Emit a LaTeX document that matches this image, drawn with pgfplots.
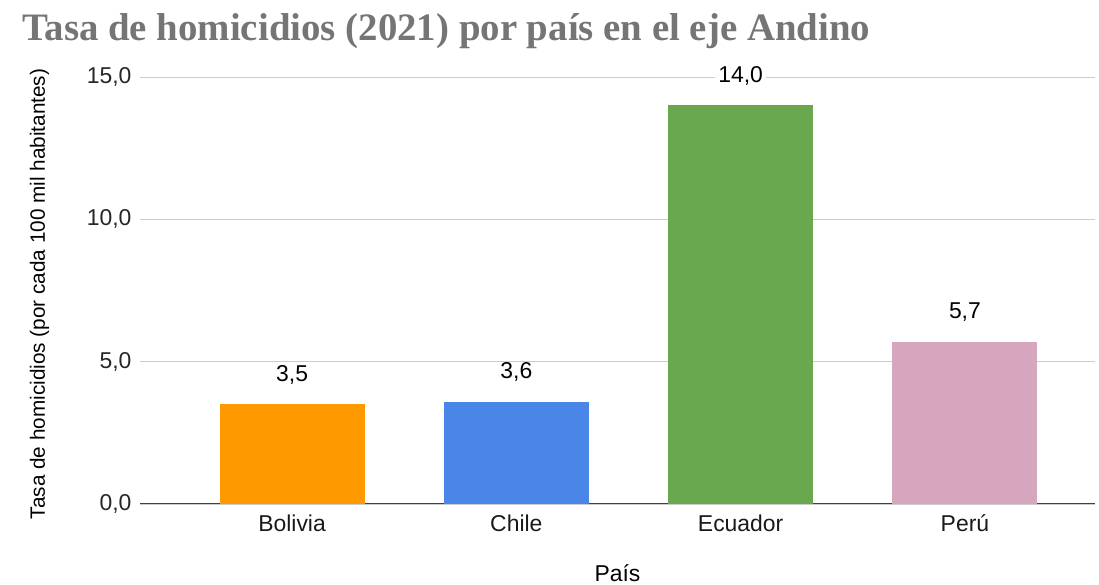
\documentclass[border=0pt]{standalone}
\usepackage{fontspec}
\setmainfont{Liberation Sans}
\newfontfamily\titlefont{Liberation Serif}
\usepackage{pgfplots}
\pgfplotsset{compat=1.18}
\definecolor{cBol}{HTML}{FF9900}
\definecolor{cChi}{HTML}{4A86E8}
\definecolor{cEcu}{HTML}{6AA84F}
\definecolor{cPer}{HTML}{D5A6BD}
\definecolor{grid}{HTML}{CCCCCC}
\definecolor{titlegray}{HTML}{757575}
\begin{document}
\begin{tikzpicture}[x=1bp,y=1bp]
\useasboundingbox (0,0) rectangle (1099,585);
\node[anchor=base west, inner sep=0, text=titlegray, font=\titlefont\bfseries\fontsize{39}{44}\selectfont] at (22,544) {Tasa de homicidios (2021) por país en el eje Andino};
\begin{axis}[
  at={(140bp,81bp)}, anchor=south west,
  scale only axis, width=955bp, height=427bp,
  ybar, bar width=145bp,
  xmin=-0.678, xmax=3.58,
  ymin=0, ymax=15,
  ytick={0,5,10,15},
  xtick={0,1,2,3},
  xticklabels={Bolivia,Chile,Ecuador,Perú},
  axis x line*=bottom, axis y line*=left,
  x axis line style={draw=black!75, line width=1pt},
  y axis line style={draw=none},
  major tick length=0pt,
  ymajorgrids, grid style={draw=grid, line width=0.8pt},
  yticklabel style={text=black!85, font=\fontsize{23}{26}\selectfont, xshift=-5bp},
  xticklabel style={text=black!90, font=\fontsize{23}{26}\selectfont, anchor=base, yshift=-28bp},
  /pgf/number format/assume math mode=true,
  yticklabel={\pgfmathprintnumber[fixed,fixed zerofill,precision=1,use comma]{\tick}},
  xlabel={País}, xlabel style={font=\fontsize{23}{26}\selectfont, at={(axis description cs:0.5,0)}, anchor=base, yshift=-78bp},
  ylabel={Tasa de homicidios (por cada 100 mil habitantes)},
  ylabel style={font=\fontsize{20.8}{24}\selectfont, at={(axis description cs:-0.0995,0.492)}, anchor=base, rotate=0},
  nodes near coords={\pgfmathprintnumber[fixed,fixed zerofill,precision=1,use comma,assume math mode=true]{\pgfplotspointmeta}},
  every node near coord/.append style={anchor=base, inner ysep=0pt, inner xsep=3bp, fill=white, yshift=23bp, font=\fontsize{23}{26}\selectfont, text=black},
  clip=false,
]
\addplot[fill=cBol, draw=none, bar shift=0pt] coordinates {(0,3.5)};
\addplot[fill=cChi, draw=none, bar shift=0pt] coordinates {(1,3.6)};
\addplot[fill=cEcu, draw=none, bar shift=0pt] coordinates {(2,14.0)};
\addplot[fill=cPer, draw=none, bar shift=0pt] coordinates {(3,5.7)};
\end{axis}
\end{tikzpicture}
\end{document}
